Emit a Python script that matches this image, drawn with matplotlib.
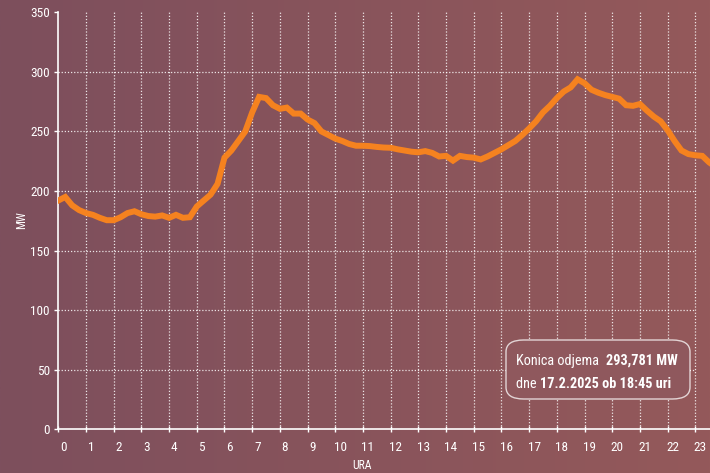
import numpy as np
import matplotlib
matplotlib.use("Agg")
import matplotlib.pyplot as plt
import matplotlib.transforms as mtransforms
from matplotlib import font_manager
from matplotlib.patches import FancyBboxPatch

# ozka pisava, ce obstaja
names = set(f.name for f in font_manager.fontManager.ttflist)
fam = 'DejaVu Sans'
for cand in ['Roboto Condensed', 'Liberation Sans Narrow', 'Open Sans Condensed', 'DejaVu Sans Condensed']:
    if cand in names:
        fam = cand
        break
plt.rcParams['font.family'] = [fam, 'DejaVu Sans']

# odjem po 15 minutah (MW)
ure = np.arange(0, 24, 0.25)
odjem = [192, 195, 188, 184, 181.5, 180, 177.5, 175.5,
         175.5, 178, 181.5, 183, 180.5, 179, 178.5, 179.5,
         177.5, 180, 177.5, 178, 187, 192, 197, 206,
         228, 234, 242, 250, 266, 279, 278, 272,
         269, 270, 265, 265, 260, 257, 250, 247,
         244, 242, 239.5, 238, 238, 237.7, 237, 236.5,
         236.3, 235, 234, 233, 232.5, 233.5, 232, 229,
         229.5, 225.5, 229.5, 228.5, 228, 226.5, 229, 232,
         235, 238.5, 242, 247, 252.5, 258.5, 266, 271.5,
         278, 283.5, 287, 293.781, 290.5, 285, 282.5, 280.5,
         279, 277.5, 272, 271.5, 273, 267.5, 262.5, 258.5,
         251, 242, 234, 231, 230, 229.5, 224, 220]
x_ticks = list(range(0, 24))
y_ticks = [0, 50, 100, 150, 200, 250, 300, 350]

fig = plt.figure(figsize=(7.1, 4.73), dpi=100)

# ozadje - gradient
bg = fig.add_axes([0, 0, 1, 1], zorder=-10)
g = np.linspace(0, 1, 256)
c0 = np.array([125, 79, 93]) / 255
c1 = np.array([148, 89, 90]) / 255
img = c0[None, :] * (1 - g[:, None]) + c1[None, :] * g[:, None]
bg.imshow(img[None, :, :], aspect='auto', extent=[0, 1, 0, 1])
bg.axis('off')

ax = fig.add_axes([58.3 / 710, 43.7 / 473, 651.7 / 710, 417 / 473])
ax.patch.set_alpha(0)
ax.plot(ure, odjem, color='#F5821F', lw=4.3, solid_joinstyle='miter', zorder=5, clip_on=True)
ax.set_xlim(0, 23.53)
ax.set_ylim(0, 350)

for h in x_ticks[1:]:
    ax.axvline(h, color='white', lw=0.9, ls=(0, (1, 1.5)), alpha=0.85, zorder=1)
for v in y_ticks[1:-1]:
    ax.plot([0, 23], [v, v], color='white', lw=0.9, ls=(0, (1, 1.5)), alpha=0.85, zorder=1)

for s in ['top', 'right']:
    ax.spines[s].set_visible(False)
for s in ['left', 'bottom']:
    ax.spines[s].set_color('white')
    ax.spines[s].set_linewidth(1.2)

ax.set_xticks(x_ticks)
ax.set_yticks(y_ticks)
ax.tick_params(axis='x', colors='white', direction='inout', length=5, width=1, pad=6, labelsize=9.5)
ax.tick_params(axis='y', colors='white', direction='out', length=3, width=1, pad=3, labelsize=9.5)
off = mtransforms.ScaledTranslation(5 / 100, 0, fig.dpi_scale_trans)
for lab in ax.get_xticklabels():
    lab.set_transform(lab.get_transform() + off)

fig.text(22 / 710, 1 - 220 / 473, 'MW', rotation=90, color='white', fontsize=8.5, ha='center', va='center')
fig.text(362 / 710, 1 - 465 / 473, 'URA', color='white', fontsize=8.5, ha='center', va='center')

# okvir z opisom
box = FancyBboxPatch((506 / 710, 1 - 399 / 473), 184 / 710, 59 / 473,
                     boxstyle='round,pad=0,rounding_size=0.025', transform=fig.transFigure,
                     facecolor='#8F585D', edgecolor=(1, 1, 1, 0.75), lw=1.0, zorder=20)
fig.add_artist(box)

fig.canvas.draw()
r = fig.canvas.get_renderer()


def vrstica(y, deli):
    x = 516 / 710
    for besedilo, teza in deli:
        t = fig.text(x, 1 - y / 473, besedilo, color='white', fontsize=10.3, fontweight=teza,
                     ha='left', va='center', zorder=21)
        bb = t.get_window_extent(renderer=r)
        x += bb.width / 710


vrstica(361, [('Konica odjema  ', 'normal'), ('293,781 MW', 'bold')])
vrstica(384, [('dne ', 'normal'), ('17.2.2025 ob 18:45 uri', 'bold')])

fig.savefig('out.png', dpi=100)
